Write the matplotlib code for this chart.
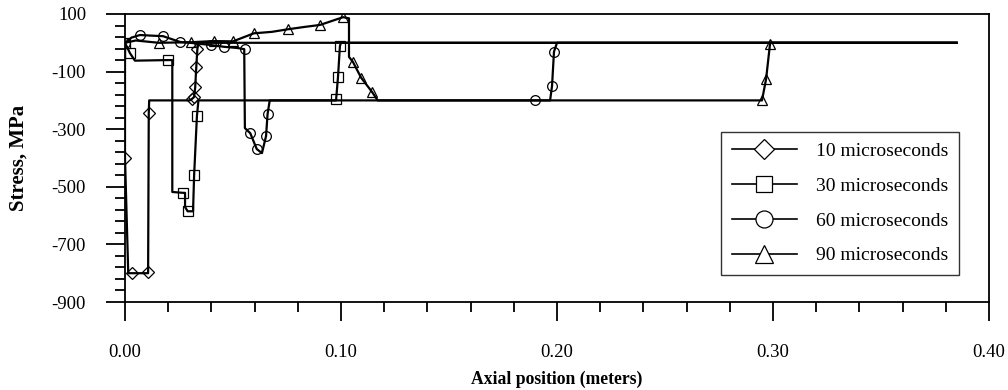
import matplotlib
matplotlib.use("Agg")
from matplotlib import pyplot as plt
from matplotlib.lines import Line2D

plt.rcParams['font.family'] = ['Liberation Serif', 'DejaVu Serif']
plt.rcParams['axes.unicode_minus'] = False

# 10 microseconds
x10 = [0.0, 0.0, 0.0015, 0.0107, 0.0110, 0.0112, 0.0300, 0.0310, 0.0320, 0.0325, 0.0330, 0.0335, 0.0340, 0.385]
y10 = [0, -400, -800, -800, -245, -200, -200, -195, -188, -155, -84, -22, 0, 0]
mx10 = [0.0, 0.0032, 0.0107, 0.0110, 0.0310, 0.0320, 0.0325, 0.0330, 0.0335]
my10 = [-400, -800, -795, -245, -195, -188, -155, -84, -22]

# 30 microseconds
x30 = [0.0, 0.0023, 0.0046, 0.0200, 0.0219, 0.0219, 0.0270, 0.0278, 0.0278, 0.0290, 0.0315, 0.0320, 0.0333, 0.0340, 0.0977, 0.0986, 0.0995, 0.1000, 0.385]
y30 = [0, -36, -62, -60, -60, -518, -521, -521, -570, -585, -585, -460, -254, -200, -200, -120, -11, 0, 0]
mx30 = [0.0, 0.0023, 0.0200, 0.0270, 0.0290, 0.0320, 0.0333, 0.0977, 0.0986, 0.0995]
my30 = [0, -36, -60, -521, -585, -460, -254, -196, -120, -11]

# 60 microseconds
x60 = [0.0, 0.003, 0.0069, 0.0120, 0.0176, 0.0255, 0.0330, 0.0400, 0.0460, 0.0520, 0.0552, 0.0555, 0.0580, 0.0610, 0.0634, 0.0653, 0.0660, 0.0670, 0.1968, 0.1977, 0.1986, 0.2000, 0.385]
y60 = [0, 18, 27, 25, 23, 3, -2, -8, -14, -18, -22, -296, -314, -369, -383, -324, -248, -200, -200, -150, -31, 0, 0]
mx60 = [0.0, 0.0069, 0.0176, 0.0255, 0.0400, 0.0460, 0.0556, 0.0580, 0.0610, 0.0653, 0.0660, 0.1898, 0.1977, 0.1986]
my60 = [0, 27, 23, 3, -8, -14, -22, -314, -369, -324, -248, -197, -150, -31]

# 90 microseconds
x90 = [0.0, 0.005, 0.0157, 0.0306, 0.0410, 0.0500, 0.0597, 0.0680, 0.0755, 0.0830, 0.0903, 0.1010, 0.1037, 0.1037, 0.1055, 0.1093, 0.1143, 0.1170, 0.2949, 0.2968, 0.2986, 0.2990, 0.385]
y90 = [0, 8, 0, 2, 6, 5, 33, 38, 47, 55, 62, 89, 85, -49, -66, -121, -170, -200, -200, -126, -5, 0, 0]
mx90 = [0.0157, 0.0306, 0.0410, 0.0500, 0.0597, 0.0755, 0.0903, 0.1010, 0.1055, 0.1093, 0.1143, 0.2949, 0.2968, 0.2986]
my90 = [0, 2, 6, 5, 33, 47, 62, 89, -66, -121, -170, -197, -126, -5]

labels = ['10 microseconds', '30 microseconds', '60 microseconds', '90 microseconds']
markers = ['D', 's', 'o', '^']
msizes = [6, 6.5, 7, 7]

xticks = [0.0, 0.1, 0.2, 0.3, 0.4]
xticklabels = ['0.00', '0.10', '0.20', '0.30', '0.40']
xminor = [0.02, 0.04, 0.06, 0.08, 0.12, 0.14, 0.16, 0.18, 0.22, 0.24, 0.26, 0.28, 0.32, 0.34, 0.36, 0.38]
yticks = [100, -100, -300, -500, -700, -900]
yminor = [60, 20, -20, -60, -140, -180, -220, -260, -340, -380, -420, -460,
          -540, -580, -620, -660, -740, -780, -820, -860]

series = [(x10, y10, mx10, my10), (x30, y30, mx30, my30),
          (x60, y60, mx60, my60), (x90, y90, mx90, my90)]

fig = plt.figure(figsize=(10.08, 3.9), dpi=100)
ax = fig.add_axes([125/1008, 1 - 302/390, 864/1008, 288/390])

handles = []
for (x, y, mx, my), m, ms, lab in zip(series, markers, msizes, labels):
    ax.plot(x, y, color='black', lw=1.6)
    ax.plot(mx, my, ls='none', marker=m, ms=ms, mfc='none', mec='black', mew=0.9)
    handles.append(Line2D([], [], color='black', lw=1.2, marker=m, ms=ms * 1.75,
                          mfc='white', mec='black', mew=0.9))

ax.set_xlim(0, 0.40)
ax.set_ylim(-900, 100)
ax.set_xticks(xticks)
ax.set_xticklabels(xticklabels)
ax.set_xticks(xminor, minor=True)
ax.set_yticks(yticks)
ax.set_yticklabels([str(v) for v in yticks])
ax.set_yticks(yminor, minor=True)
ax.tick_params(axis='x', which='major', direction='out', length=14, width=1.3, pad=16, labelsize=13.5)
ax.tick_params(axis='x', which='minor', direction='out', length=7, width=1.3)
ax.tick_params(axis='y', which='major', direction='out', length=14, width=1.3, pad=14, labelsize=13.5)
ax.tick_params(axis='y', which='minor', direction='out', length=7, width=1.3)
for s in ax.spines.values():
    s.set_linewidth(1.3)

ax.set_xlabel('Axial position (meters)', fontsize=12.7, fontweight='bold')
ax.xaxis.set_label_coords(0.5, (302 - 371) / 288)
ax.set_ylabel('Stress, MPa', fontsize=15, fontweight='bold')
ax.yaxis.set_label_coords((29 - 125) / 864, 0.5)

leg = ax.legend(handles, labels, loc='lower left', bbox_to_anchor=((721 - 125) / 864, (302 - 275) / 288),
                frameon=True, fancybox=False, edgecolor='black', fontsize=14,
                handlelength=3.35, handletextpad=1.0, labelspacing=0.88, borderpad=0.55,
                borderaxespad=0)
leg.get_frame().set_linewidth(1.0)

plt.savefig('out.png', dpi=100)
